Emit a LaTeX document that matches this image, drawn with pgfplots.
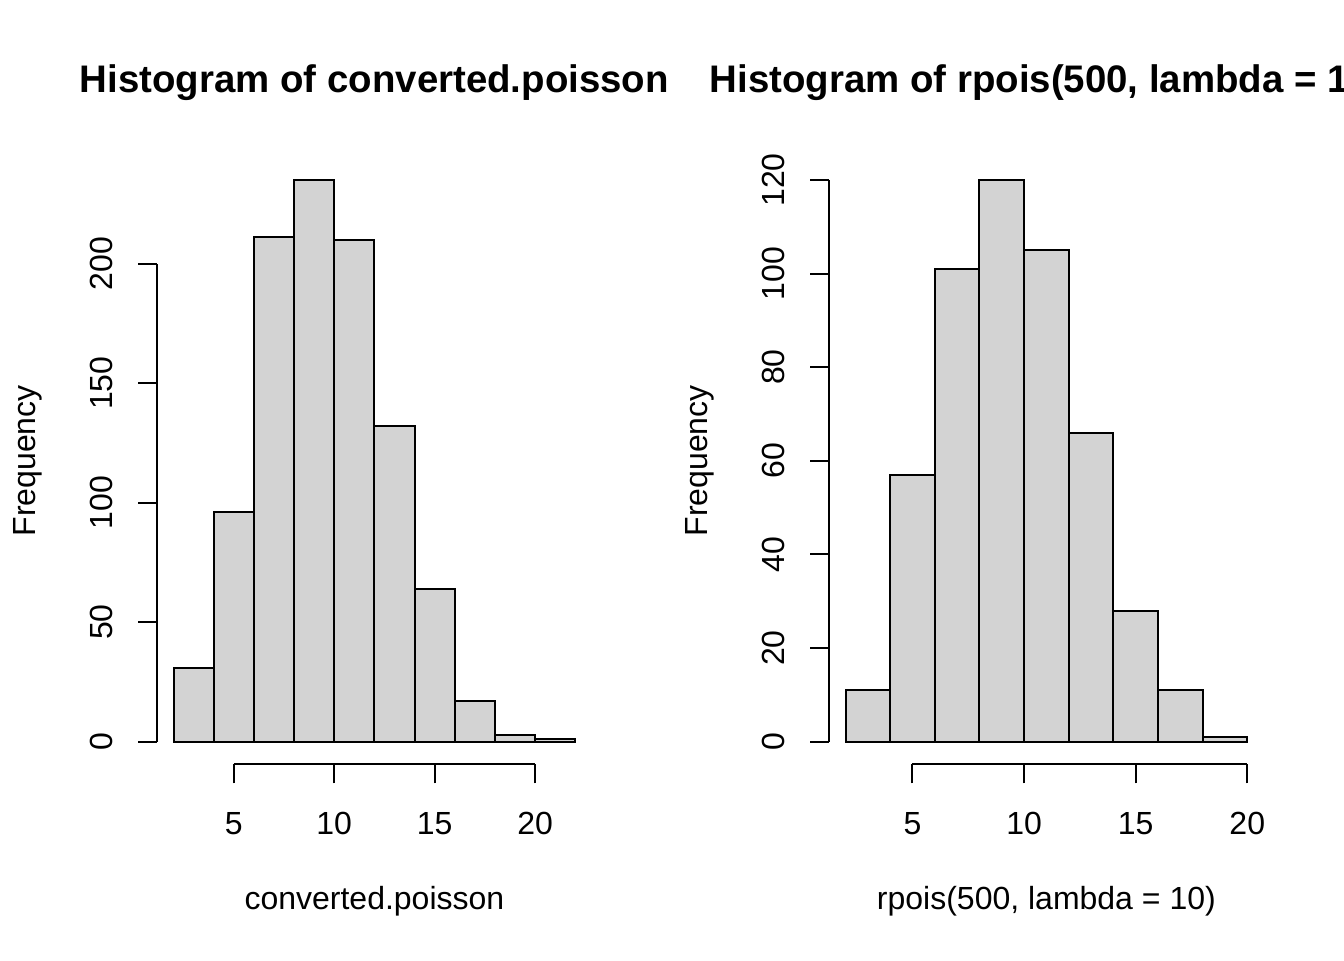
\documentclass[border=0pt]{standalone}
\usepackage{fontspec}
\setmainfont{Liberation Sans}
\usepackage{pgfplots}
\pgfplotsset{compat=1.18}
\definecolor{histgray}{HTML}{D3D3D3}

\pgfplotsset{
  rhist/.style={
    scale only axis,
    width=162.72pt, height=227.52pt,
    anchor=south west,
    clip=false,
    axis x line*=bottom, axis y line*=left,
    axis line style={draw=none},
    tick align=outside,
    major tick length=7.2pt,
    tick style={black, line width=0.75pt},
    every tick label/.append style={font=\fontsize{12}{14}\selectfont},
    /pgf/number format/assume math mode=true,
    xtick={5,10,15,20},
    xticklabel style={anchor=base, yshift=-19.3pt},
    yticklabel style={xshift=-9.8pt, rotate=90, anchor=base},
    every axis title/.style={at={(axis description cs:0.5,1)}, anchor=base,
      yshift=24.5pt, font=\bfseries\fontsize{14.4}{17}\selectfont},
    every axis x label/.style={at={(axis description cs:0.5,0)}, anchor=base,
      yshift=-54.4pt, font=\fontsize{12}{14}\selectfont},
    every axis y label/.style={at={(axis description cs:0,0.5)}, xshift=-45.9pt,
      rotate=90, anchor=base, font=\fontsize{12}{14}\selectfont},
    ylabel={Frequency},
  },
  bars/.style={ybar interval, fill=histgray, draw=black, line width=0.75pt},
}

\begin{document}
\begin{tikzpicture}
\path[use as bounding box, clip] (0,0) rectangle (504pt,360pt);

% left panel
\begin{axis}[rhist, at={(59.04pt,73.44pt)},
  xmin=1.2, xmax=22.8, ymin=-9.4, ymax=244.4,
  ytick={0,50,100,150,200},
  title={Histogram of converted.poisson},
  xlabel={converted.poisson}]
  \addplot[bars] coordinates {(2,31) (4,96) (6,211) (8,235) (10,210)
    (12,132) (14,64) (16,17) (18,3) (20,1) (22,1)};
  \draw[line width=0.75pt] (axis cs:5,-9.4) -- (axis cs:20,-9.4);
  \draw[line width=0.75pt] (axis cs:1.2,0) -- (axis cs:1.2,200);
\end{axis}

% right panel
\begin{axis}[rhist, at={(311.04pt,73.44pt)},
  xmin=1.28, xmax=20.72, ymin=-4.8, ymax=124.8,
  ytick={0,20,40,60,80,100,120},
  title={Histogram of rpois(500, lambda = 10)},
  xlabel={rpois(500, lambda = 10)}]
  \addplot[bars] coordinates {(2,11) (4,57) (6,101) (8,120) (10,105)
    (12,66) (14,28) (16,11) (18,1) (20,1)};
  \draw[line width=0.75pt] (axis cs:5,-4.8) -- (axis cs:20,-4.8);
  \draw[line width=0.75pt] (axis cs:1.28,0) -- (axis cs:1.28,120);
\end{axis}
\end{tikzpicture}
\end{document}
